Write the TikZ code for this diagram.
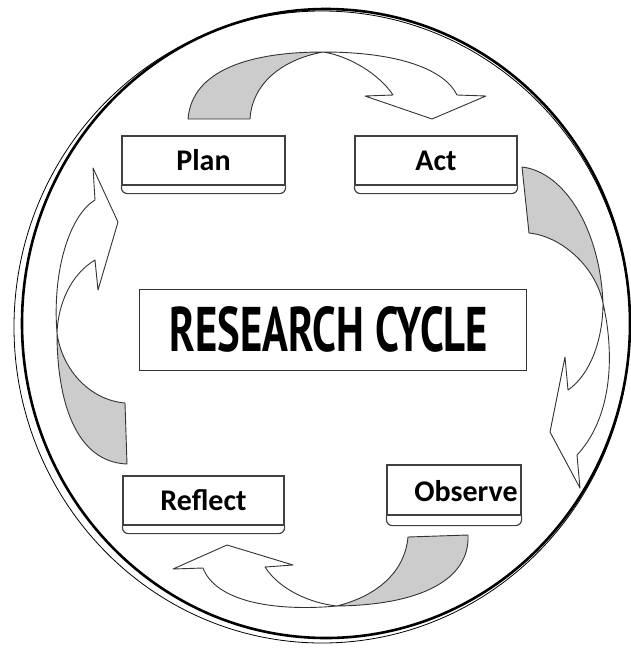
\documentclass[tikz,border=0pt]{standalone}
\usepackage{fontspec}
\setmainfont{Carlito}
\newfontfamily\titlefont{PT Sans}
\usepackage{graphicx}
\usetikzlibrary{calc}
\begin{document}
\begin{tikzpicture}[x=1pt,y=-1pt,
  outl/.style={draw=black!80, line width=0.9pt, line join=round},
  backfill/.style={fill=black!20},
  frontfill/.style={fill=white},
  labeltext/.style={inner sep=0pt, font=\bfseries\fontsize{30}{32}\selectfont},
  labelbox/.style={draw=black!75, line width=1.2pt, minimum height=49pt, inner sep=0pt,
    font=\bfseries\fontsize{30}{32}\selectfont},
  lip/.style={draw=black!75, line width=1.2pt, rounded corners=6pt},
  titlebox/.style={draw=black!80, line width=1pt, minimum width=387pt, minimum height=81pt, inner sep=0pt}
]
\useasboundingbox (0,0) rectangle (631,649);
\fill[white] (0,0) rectangle (631,649);

% outer ring
\draw[black, line width=0.8pt] (322,327) ellipse [x radius=308, y radius=316];
\draw[black, line width=2.6pt] (326,323.5) ellipse [x radius=304, y radius=314.5];

% boxes
\node[labelbox, minimum width=163pt] (plan) at (203.5,160.5) {Plan};
\draw[lip] (plan.south west) -- ($(plan.south west)+(0,8)$) -- ($(plan.south east)+(0,8)$) -- (plan.south east);
\node[labelbox, minimum width=162pt] (act) at (436,160.5) {Act};
\draw[lip] (act.south west) -- ($(act.south west)+(0,8)$) -- ($(act.south east)+(0,8)$) -- (act.south east);
\node[labelbox, minimum width=161pt] (reflect) at (203.5,500.5) {Reflect};
\draw[lip] (reflect.south west) -- ($(reflect.south west)+(0,8)$) -- ($(reflect.south east)+(0,8)$) -- (reflect.south east);
\node[labelbox, minimum width=134pt, minimum height=50pt] (observe) at (454,490) {};
\node[labeltext] (observetext) at (466,491) {Observe};
\draw[lip] (observe.south west) -- ($(observe.south west)+(0,10)$) -- ($(observe.south east)+(0,10)$) -- (observe.south east);

\node[titlebox] (title) at (332.5,329.5) {};
\node (titletext) at (329,329.5) {\resizebox{318pt}{45pt}{\titlefont\bfseries RESEARCH CYCLE}};

% top arrow (Plan -> Act)
\path[backfill,outl] (188,119) .. controls (192,70) and (250,52) .. (323,52)
  .. controls (280,60) and (252,85) .. (250,119) -- cycle;
\path[frontfill,outl] (323,52) .. controls (400,52) and (445,70) .. (457,95)
  -- (486,96) -- (432,119) -- (365,96) -- (393,95)
  .. controls (380,75) and (350,56) .. (323,52) -- cycle;

% right arrow (Act -> Observe)
\path[backfill,outl] (522,167) .. controls (565,172) and (600,230) .. (603,303)
  .. controls (595,265) and (560,236) .. (529,233) -- cycle;
\path[frontfill,outl] (603,303) .. controls (616,360) and (610,420) .. (577,455)
  -- (580,488) -- (550,432) -- (565,357) -- (568,390)
  .. controls (590,375) and (603,340) .. (603,303) -- cycle;

% bottom arrow (Observe -> Reflect)
\path[backfill,outl] (408,537) -- (468,535) .. controls (470,580) and (420,605) .. (337,606)
  .. controls (380,595) and (405,570) .. (408,537) -- cycle;
\path[frontfill,outl] (337,606) .. controls (270,612) and (215,600) .. (203,568)
  -- (173,569) -- (227,545) -- (293,565) -- (265,567)
  .. controls (280,590) and (310,603) .. (337,606) -- cycle;

% left arrow (Reflect -> Plan)
\path[backfill,outl] (127,464) .. controls (75,462) and (57,400) .. (57,333)
  .. controls (62,370) and (90,400) .. (125,403) -- cycle;
\path[frontfill,outl] (57,333) .. controls (52,270) and (70,215) .. (95,200)
  -- (93,168) -- (118,222) -- (98,290) -- (95,260)
  .. controls (70,275) and (58,305) .. (57,333) -- cycle;
\end{tikzpicture}
\end{document}
